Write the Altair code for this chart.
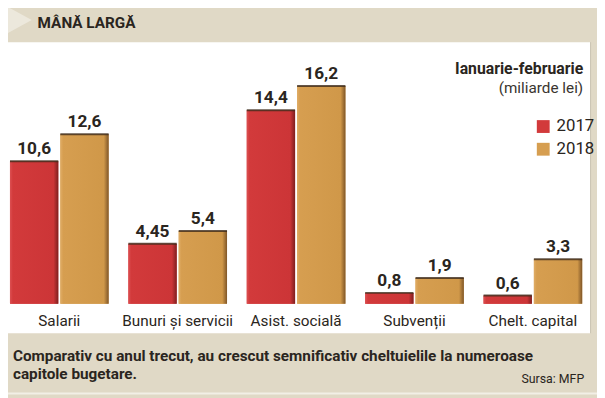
import altair as alt
import pandas as pd

categories = ["Salarii", "Bunuri și servicii", "Asist. socială", "Subvenții", "Chelt. capital"]
years = ["2017", "2018"]
v2017 = [10.6, 4.45, 14.4, 0.8, 0.6]
v2018 = [12.6, 5.4, 16.2, 1.9, 3.3]
colors = ["#d23a3b", "#d69e50"]

title = "MÂNĂ LARGĂ"
sub1 = "Ianuarie-februarie"
sub2 = "(miliarde lei)"
cap1 = "Comparativ cu anul trecut, au crescut semnificativ cheltuielile la numeroase"
cap2 = "capitole bugetare."
source = "Sursa: MFP"

rows = []
for i, c in enumerate(categories):
    for y, vals in zip(years, [v2017, v2018]):
        v = vals[i]
        rows.append({"cat": c, "year": y, "value": v, "label": str(v).replace(".", ",")})
df = pd.DataFrame(rows)
cat_df = pd.DataFrame({"cat": categories})

FONT = "Roboto"
DARK = "#2a2520"

xscale = alt.Scale(domain=categories, range=[-8, 592], paddingInner=1/6, paddingOuter=1/12)
yscale = alt.Scale(domain=[0, 21.81], range=[297, 0])
X = alt.X("cat:N", sort=categories, scale=xscale, axis=None)
XO = alt.XOffset("year:N", scale=alt.Scale(domain=years, paddingInner=0.04))
Y = alt.Y("value:Q", scale=yscale, axis=None)

one = pd.DataFrame({"a": [0]})

panel = alt.Chart(one).mark_rect(color="#ffffff").encode(
    x=alt.value(0), x2=alt.value(590), y=alt.value(32), y2=alt.value(327))
edge = alt.Chart(one).mark_rule(color="#c9c3b3", strokeWidth=1).encode(
    x=alt.value(590.5), y=alt.value(32), y2=alt.value(327))
bottom_edge = alt.Chart(one).mark_rule(color="#f2efe6", strokeWidth=2).encode(
    x=alt.value(0), x2=alt.value(597), y=alt.value(388))
wedge = alt.Chart(one).mark_point(
    shape="M-1,-1L0.83,0L-1,1Z", filled=True, color="#ece8dc", opacity=1, size=1225
).encode(x=alt.value(9.5), y=alt.value(9.5))
title_t = alt.Chart(one).mark_text(
    text=title, font=FONT, fontSize=15.5, fontWeight="bold", color=DARK,
    align="left", baseline="alphabetic").encode(x=alt.value(30), y=alt.value(18))

bars = alt.Chart(df).mark_bar(cornerRadius=0).encode(
    x=X, xOffset=XO, y=Y, y2=alt.datum(0),
    color=alt.Color("year:N", scale=alt.Scale(domain=years, range=colors),
                    legend=alt.Legend(orient="none", legendX=534, legendY=109, title=None,
                                      symbolType="square", symbolSize=169, symbolStrokeWidth=0,
                                      labelFont=FONT, labelFontSize=17, labelColor=DARK,
                                      rowPadding=5, labelOffset=5)))

grad_red = {"gradient": "linear", "x1": 0, "x2": 1, "y1": 0, "y2": 0,
            "stops": [{"offset": 0, "color": "#dc5052"}, {"offset": 0.06, "color": "#d23a3b"},
                      {"offset": 0.9, "color": "#cc3537"}, {"offset": 1, "color": "#7e1f1f"}]}
grad_gold = {"gradient": "linear", "x1": 0, "x2": 1, "y1": 0, "y2": 0,
             "stops": [{"offset": 0, "color": "#e0ad66"}, {"offset": 0.06, "color": "#d69e50"},
                       {"offset": 0.9, "color": "#d09849"}, {"offset": 1, "color": "#7f5628"}]}
shade_red = alt.Chart(df).transform_filter(alt.datum.year == "2017").mark_bar(color=grad_red).encode(
    x=X, xOffset=XO, y=Y, y2=alt.datum(0))
shade_gold = alt.Chart(df).transform_filter(alt.datum.year == "2018").mark_bar(color=grad_gold).encode(
    x=X, xOffset=XO, y=Y, y2=alt.datum(0))
tops = alt.Chart(df).mark_tick(thickness=2, color="#3d2b1a", opacity=0.8, bandSize=49).encode(
    x=X, xOffset=XO, y=Y)
labels = alt.Chart(df).mark_text(
    font=FONT, fontSize=17.5, fontWeight="bold", color=DARK, baseline="alphabetic", dy=-7
).encode(x=X, xOffset=XO, y=Y, text="label:N")
cats = alt.Chart(cat_df).mark_text(
    font=FONT, fontSize=15.5, color=DARK, baseline="alphabetic"
).encode(x=X, y=alt.value(320), text="cat:N")

s1 = alt.Chart(one).mark_text(text=sub1, font=FONT, fontSize=16, fontWeight="bold", color=DARK,
                              align="right", baseline="alphabetic").encode(x=alt.value(583), y=alt.value(64))
s2 = alt.Chart(one).mark_text(text=sub2, font=FONT, fontSize=15.5, color="#3a3530",
                              align="right", baseline="alphabetic").encode(x=alt.value(583), y=alt.value(84))
c1 = alt.Chart(one).mark_text(text=cap1, font=FONT, fontSize=15.5, fontWeight="bold", color=DARK,
                              align="left", baseline="alphabetic").encode(x=alt.value(5), y=alt.value(355))
c2 = alt.Chart(one).mark_text(text=cap2, font=FONT, fontSize=15.5, fontWeight="bold", color=DARK,
                              align="left", baseline="alphabetic").encode(x=alt.value(5), y=alt.value(373))
src = alt.Chart(one).mark_text(text=source, font=FONT, fontSize=12.5, color=DARK,
                               align="right", baseline="alphabetic").encode(x=alt.value(584), y=alt.value(377))

chart = alt.layer(panel, edge, bottom_edge, wedge, title_t, bars, shade_red, shade_gold, tops,
                  labels, cats, s1, s2, c1, c2, src).properties(
    width=597, height=390, autosize=alt.AutoSizeParams(type="none"), padding=0,
    background="#e0d9c6"
).configure_view(stroke=None)

chart.save("out.html", embed_options={"renderer": "svg", "actions": False})
